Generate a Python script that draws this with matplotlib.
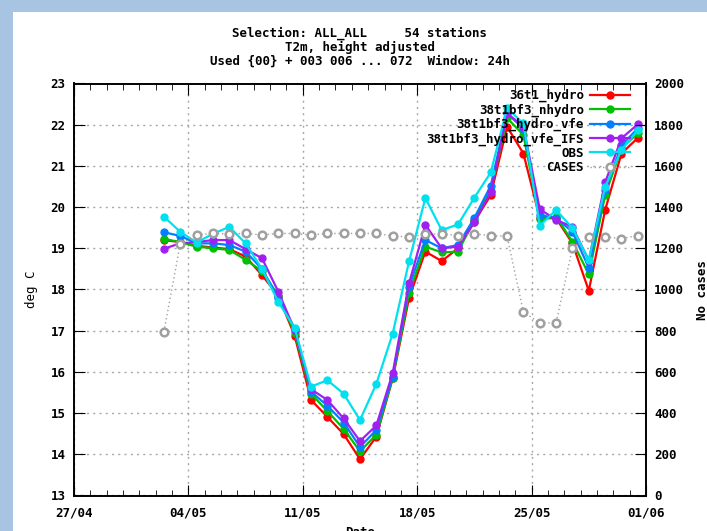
import numpy as np
import pandas as pd
import matplotlib
matplotlib.use('Agg')
from matplotlib import pyplot as plt
import matplotlib.dates as mdates
from matplotlib.patches import Rectangle

plt.rcParams['font.family'] = ['DejaVu Sans Mono']
plt.rcParams['font.weight'] = 'bold'
plt.rcParams['font.size'] = 9

# one point per day, plotted at midday
dates = pd.date_range('2017-05-02 12:00', periods=30, freq='D')

hydro_36t1 = [19.20, 19.15, 19.06, 19.02, 18.98, 18.80, 18.35, 17.85, 16.88, 15.32,
              14.91, 14.49, 13.88, 14.43, 15.84, 17.79, 18.92, 18.69, 19.00, 19.65,
              20.29, 21.95, 21.30, 19.73, 19.73, 19.12, 17.97, 19.93, 21.30, 21.68]
nhydro_38 = [19.23, 19.15, 19.04, 19.00, 18.96, 18.72, 18.45, 17.85, 16.95, 15.47,
             15.05, 14.62, 14.07, 14.48, 15.85, 17.92, 19.04, 18.90, 18.92, 19.69,
             20.40, 22.16, 21.75, 19.71, 19.77, 19.16, 18.37, 20.29, 21.43, 21.79]
hydro_vfe_38 = [19.39, 19.30, 19.12, 19.12, 19.08, 18.92, 18.50, 17.80, 17.05, 15.52,
                15.18, 14.77, 14.18, 14.59, 15.88, 18.07, 19.20, 19.00, 19.08, 19.74,
                20.52, 22.28, 21.90, 19.81, 19.73, 19.40, 18.53, 20.41, 21.50, 21.91]
hydro_vfe_ifs_38 = [18.99, 19.12, 19.15, 19.20, 19.20, 18.98, 18.76, 17.95, 17.02, 15.58,
                    15.32, 14.87, 14.32, 14.70, 15.97, 18.15, 19.57, 19.00, 19.04, 19.63,
                    20.37, 22.28, 21.95, 19.95, 19.69, 19.52, 18.70, 20.60, 21.67, 22.01]
obs = [19.77, 19.40, 19.14, 19.35, 19.52, 19.12, 18.50, 17.70, 17.07, 15.64,
       15.80, 15.47, 14.83, 15.71, 16.93, 18.68, 20.22, 19.44, 19.58, 20.23,
       20.84, 22.40, 22.03, 19.55, 19.93, 19.49, 18.72, 20.49, 21.39, 21.87]
cases = [795, 1220, 1265, 1272, 1270, 1272, 1265, 1272, 1272, 1265,
         1272, 1272, 1272, 1272, 1260, 1255, 1268, 1270, 1262, 1270,
         1262, 1258, 890, 838, 838, 1202, 1253, 1256, 1247, 1262]

series = [
    ('36t1_hydro', hydro_36t1, '#ff0000'),
    ('38t1bf3_nhydro', nhydro_38, '#00c000'),
    ('38t1bf3_hydro_vfe', hydro_vfe_38, '#0080ff'),
    ('38t1bf3_hydro_vfe_IFS', hydro_vfe_ifs_38, '#a020f0'),
    ('OBS', obs, '#00e0ee'),
]

fig = plt.figure(figsize=(7.07, 5.31), dpi=100)
fig.patch.set_facecolor('#a7c4e2')
fig.add_artist(Rectangle((13 / 707, 0), 1, (531 - 12) / 531, transform=fig.transFigure,
                         facecolor='white', edgecolor='none', zorder=-1))

ax = fig.add_axes([74 / 707, 1 - 495.5 / 531, 572 / 707, 412 / 531])
ax2 = ax.twinx()

handles = []
for name, vals, col in series:
    h, = ax.plot(dates, vals, color=col, lw=1.6, marker='o', ms=5, label=name)
    handles.append(h)
h, = ax2.plot(dates, cases, color='#a0a0a0', lw=1, ls=(0, (1, 2)), marker='o', ms=5.5,
              mfc='white', mec='#a0a0a0', mew=1.8, label='CASES')
handles.append(h)

ax.set_ylim(13, 23)
ax.set_yticks(np.arange(13, 24, 1))
ax2.set_ylim(0, 2000)
ax2.set_yticks(np.arange(0, 2001, 200))

ax.set_xlim(pd.Timestamp('2017-04-27'), pd.Timestamp('2017-06-01'))
ax.set_xticks(pd.date_range('2017-04-27', '2017-06-01', freq='7D'))
ax.xaxis.set_major_formatter(mdates.DateFormatter('%d/%m'))
ax.xaxis.set_minor_locator(mdates.DayLocator())

ax.grid(True, which='major', color='#a8a8a8', ls=(0, (1.5, 3)), lw=1)
ax.tick_params(which='both', direction='in', top=True, right=False, colors='black')
ax.tick_params(axis='x', which='major', length=8, pad=8)
ax.tick_params(axis='x', which='minor', length=4)
ax.tick_params(axis='y', which='major', length=8, pad=6)
ax2.tick_params(direction='in', length=8, pad=6)
for a in (ax, ax2):
    for s in a.spines.values():
        s.set_linewidth(1.2)

ax.set_ylabel('deg C', labelpad=9)
fig.text(703 / 707, 1 - 290 / 531, 'No cases', rotation=90, ha='center', va='center')
fig.text(360 / 707, 1 - 526 / 531, 'Date', ha='center', va='top')

fig.text(360 / 707, 1 - 33 / 531, 'Selection: ALL_ALL     54 stations', ha='center', va='center')
fig.text(360 / 707, 1 - 47.5 / 531, 'T2m, height adjusted', ha='center', va='center')
fig.text(360 / 707, 1 - 61.5 / 531, 'Used {00} + 003 006 ... 072  Window: 24h', ha='center', va='center')

ax2.legend(handles=handles, loc='upper right', bbox_to_anchor=((630 - 74) / 572, 1 - 5.5 / 412),
           frameon=False, markerfirst=False, borderpad=0, borderaxespad=0,
           handlelength=3.2, handletextpad=0.5, labelspacing=0.09)

fig.savefig('out.png', dpi=100)
